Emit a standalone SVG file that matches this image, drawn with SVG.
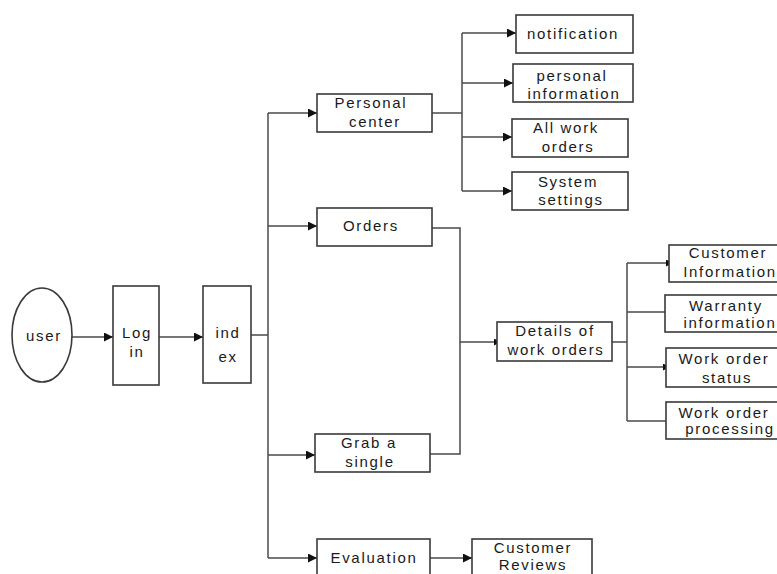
<svg xmlns="http://www.w3.org/2000/svg" width="777" height="574" viewBox="0 0 777 574">
  <style>
    .box { fill: #ffffff; stroke: #3a3a3a; stroke-width: 1.6; }
    .wire { fill: none; stroke: #4a4a4a; stroke-width: 1.5; }
    .lbl { font-family: "Liberation Sans", Arial, sans-serif; font-size: 15px; letter-spacing: 1.7px; fill: #1a1a1a; text-anchor: middle; }
  </style>
  <defs>
    <marker id="arrow" markerWidth="10" markerHeight="10" refX="9" refY="4.5" orient="auto" markerUnits="userSpaceOnUse">
      <path d="M0,0 L9,4.5 L0,9 Z" fill="#111111"/>
    </marker>
    <marker id="nub" markerWidth="4" markerHeight="8" refX="3" refY="3.5" orient="auto" markerUnits="userSpaceOnUse">
      <path d="M0,0 L3,1.5 L3,5.5 L0,7 Z" fill="#111111"/>
    </marker>
  </defs>
  <rect width="777" height="574" fill="#ffffff"/>

  <!-- connectors -->
  <g id="connectors">
    <line class="wire" x1="72" y1="337" x2="113" y2="337" marker-end="url(#arrow)"/>
    <line class="wire" x1="159" y1="337" x2="203" y2="337" marker-end="url(#arrow)"/>
    <!-- main trunk from index -->
    <line class="wire" x1="251" y1="335" x2="268" y2="335"/>
    <line class="wire" x1="268" y1="113" x2="268" y2="558"/>
    <line class="wire" x1="268" y1="113" x2="317" y2="113" marker-end="url(#arrow)"/>
    <line class="wire" x1="268" y1="226" x2="317" y2="226" marker-end="url(#arrow)"/>
    <line class="wire" x1="268" y1="455" x2="315" y2="455" marker-end="url(#arrow)"/>
    <line class="wire" x1="268" y1="558" x2="317" y2="558" marker-end="url(#arrow)"/>
    <!-- personal center branches -->
    <line class="wire" x1="432" y1="113" x2="462" y2="113"/>
    <line class="wire" x1="462" y1="33" x2="462" y2="191"/>
    <line class="wire" x1="462" y1="33" x2="516" y2="33" marker-end="url(#arrow)"/>
    <line class="wire" x1="462" y1="83" x2="513" y2="83" marker-end="url(#arrow)"/>
    <line class="wire" x1="462" y1="137" x2="512" y2="137" marker-end="url(#arrow)"/>
    <line class="wire" x1="462" y1="191" x2="512" y2="191" marker-end="url(#arrow)"/>
    <!-- orders / grab a single to details -->
    <polyline class="wire" points="432,228 460,228 460,454 430,454"/>
    <line class="wire" x1="460" y1="342" x2="497" y2="342" marker-end="url(#nub)"/>
    <!-- details branches -->
    <line class="wire" x1="612" y1="342" x2="627" y2="342"/>
    <line class="wire" x1="627" y1="263" x2="627" y2="421"/>
    <line class="wire" x1="627" y1="263" x2="669" y2="263" marker-end="url(#nub)"/>
    <line class="wire" x1="627" y1="312" x2="665" y2="312"/>
    <line class="wire" x1="627" y1="367" x2="666" y2="367" marker-end="url(#nub)"/>
    <line class="wire" x1="627" y1="421" x2="666" y2="421"/>
    <!-- evaluation -->
    <line class="wire" x1="430" y1="558" x2="472" y2="558" marker-end="url(#arrow)"/>
  </g>

  <g id="user">
    <ellipse class="box" cx="42" cy="335" rx="30" ry="47"/>
    <text class="lbl" x="44" y="341">user</text>
  </g>
  <g id="login">
    <rect class="box" x="113" y="286" width="46" height="99"/>
    <text class="lbl" x="137" y="338">Log</text>
    <text class="lbl" x="137" y="357">in</text>
  </g>
  <g id="index">
    <rect class="box" x="203" y="286" width="48" height="97"/>
    <text class="lbl" x="228" y="338">ind</text>
    <text class="lbl" x="228" y="362">ex</text>
  </g>

  <g id="personal-center">
    <rect class="box" x="317" y="94" width="115" height="38"/>
    <text class="lbl" x="371" y="108">Personal</text>
    <text class="lbl" x="375" y="127">center</text>
  </g>
  <g id="orders">
    <rect class="box" x="317" y="208" width="115" height="38"/>
    <text class="lbl" x="371" y="231">Orders</text>
  </g>
  <g id="grab-a-single">
    <rect class="box" x="315" y="434" width="115" height="38"/>
    <text class="lbl" x="369" y="448">Grab a</text>
    <text class="lbl" x="370" y="467">single</text>
  </g>
  <g id="evaluation">
    <rect class="box" x="317" y="539" width="113" height="40"/>
    <text class="lbl" x="374" y="563">Evaluation</text>
  </g>
  <g id="customer-reviews">
    <rect class="box" x="472" y="539" width="120" height="40"/>
    <text class="lbl" x="533" y="553">Customer</text>
    <text class="lbl" x="533" y="570">Reviews</text>
  </g>

  <g id="notification">
    <rect class="box" x="516" y="15" width="117" height="38"/>
    <text class="lbl" x="573" y="39">notification</text>
  </g>
  <g id="personal-information">
    <rect class="box" x="513" y="64" width="120" height="38"/>
    <text class="lbl" x="572" y="81">personal</text>
    <text class="lbl" x="574" y="99">information</text>
  </g>
  <g id="all-work-orders">
    <rect class="box" x="512" y="119" width="116" height="38"/>
    <text class="lbl" x="566" y="133">All work</text>
    <text class="lbl" x="568" y="152">orders</text>
  </g>
  <g id="system-settings">
    <rect class="box" x="512" y="172" width="116" height="38"/>
    <text class="lbl" x="568" y="187">System</text>
    <text class="lbl" x="571" y="205">settings</text>
  </g>

  <g id="details-of-work-orders">
    <rect class="box" x="497" y="322" width="115" height="39"/>
    <text class="lbl" x="555" y="336">Details of</text>
    <text class="lbl" x="556" y="355">work orders</text>
  </g>

  <g id="customer-information">
    <rect class="box" x="669" y="245" width="120" height="37"/>
    <text class="lbl" x="728" y="258">Customer</text>
    <text class="lbl" x="730" y="277">Information</text>
  </g>
  <g id="warranty-information">
    <rect class="box" x="665" y="295" width="124" height="37"/>
    <text class="lbl" x="726" y="311">Warranty</text>
    <text class="lbl" x="730" y="328">information</text>
  </g>
  <g id="work-order-status">
    <rect class="box" x="666" y="348" width="123" height="39"/>
    <text class="lbl" x="724" y="364">Work order</text>
    <text class="lbl" x="727" y="383">status</text>
  </g>
  <g id="work-order-processing">
    <rect class="box" x="666" y="402" width="123" height="37"/>
    <text class="lbl" x="724" y="418">Work order</text>
    <text class="lbl" x="730" y="434">processing</text>
  </g>
</svg>
